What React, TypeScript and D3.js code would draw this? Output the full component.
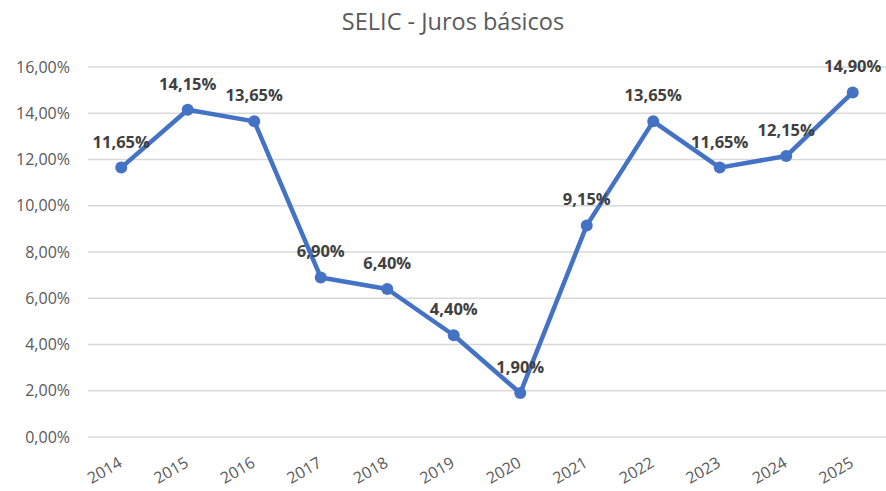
import React from "react";
import * as d3 from "d3";

const years = ["2014", "2015", "2016", "2017", "2018", "2019", "2020", "2021", "2022", "2023", "2024", "2025"];
const selic = [11.65, 14.15, 13.65, 6.9, 6.4, 4.4, 1.9, 9.15, 13.65, 11.65, 12.15, 14.9];
const yTicks = [0, 2, 4, 6, 8, 10, 12, 14, 16];

const W = 886;
const H = 491;
const font = "'Open Sans', sans-serif";

const pct = (v: number) => v.toFixed(2).replace(".", ",") + "%";

export default function App() {
  // plot area
  const x = d3.scaleBand().domain(years).range([88, 886]);
  const y = d3.scaleLinear().domain([0, 16]).range([437, 67]);
  const cx = (d: string) => (x(d) ?? 0) + x.bandwidth() / 2;

  const line = d3
    .line<number>()
    .x((_, i) => cx(years[i]))
    .y((d) => y(d));

  return (
    <svg
      width={W}
      height={H}
      style={{ position: "fixed", left: 0, top: 0, background: "#fff" }}
      fontFamily={font}
    >
      <text x={453} y={30} textAnchor="middle" fontSize={23.5} fill="#595959">
        SELIC - Juros básicos
      </text>

      {/* gridlines + y labels */}
      {yTicks.map((t) => (
        <g key={t}>
          <line x1={88} x2={886} y1={y(t)} y2={y(t)} stroke="#d9d9d9" strokeWidth={1.3} />
          <text x={70} y={y(t) + 5.5} textAnchor="end" fontSize={16} fill="#595959">
            {pct(t)}
          </text>
        </g>
      ))}

      {/* x labels */}
      {years.map((yr) => (
        <text
          key={yr}
          transform={`translate(${cx(yr) + 2},${466}) rotate(-30)`}
          textAnchor="end"
          fontSize={16}
          fill="#595959"
        >
          {yr}
        </text>
      ))}

      <path d={line(selic) || undefined} fill="none" stroke="#4472c4" strokeWidth={4.5} strokeLinejoin="round" />
      {selic.map((v, i) => (
        <circle key={i} cx={cx(years[i])} cy={y(v)} r={6} fill="#4472c4" />
      ))}

      {/* data labels */}
      {selic.map((v, i) => (
        <text
          key={"l" + i}
          x={cx(years[i])}
          y={y(v) - 20}
          textAnchor="middle"
          fontSize={16.5}
          fontWeight="bold"
          fill="#404040"
        >
          {pct(v)}
        </text>
      ))}
    </svg>
  );
}
